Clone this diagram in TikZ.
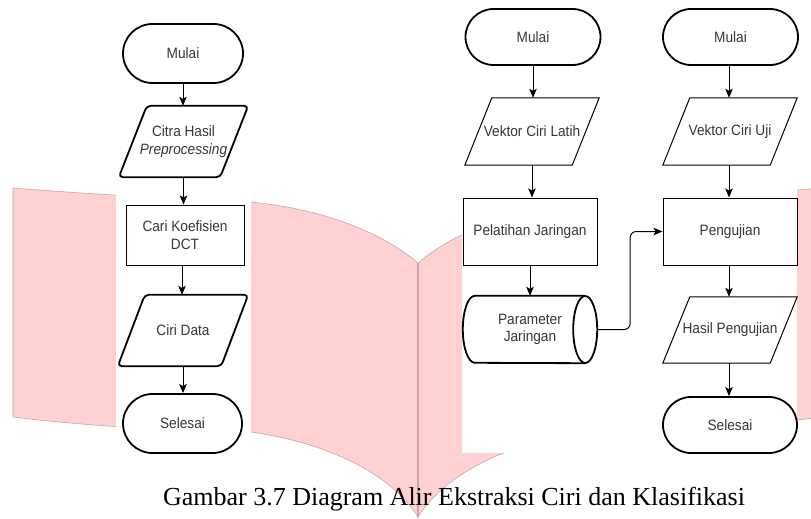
\documentclass[tikz,border=0pt]{standalone}
\usepackage{fontspec}
\setmainfont{Liberation Serif}
\newfontfamily\flowfont[FakeStretch=0.91]{Liberation Sans}
\usetikzlibrary{arrows.meta,calc,shapes.misc}
\definecolor{bookpink}{RGB}{255,209,211}
\definecolor{bookedge}{RGB}{196,168,170}
\definecolor{spinecol}{RGB}{200,168,170}
\definecolor{txtgray}{RGB}{55,55,55}
\begin{document}
\begin{tikzpicture}[x=1pt,y=-1pt,
  lbl/.style={font=\flowfont\fontsize{15}{17.5}\selectfont, text=txtgray, align=center, inner sep=0pt},
  term/.style={lbl, rounded rectangle, draw=black, line width=1.8pt},
  procbox/.style={lbl, rectangle, draw=black, line width=1pt},
  thickline/.style={draw=black, line width=1.8pt, line join=round},
  thinline/.style={draw=black, line width=1pt},
  arr/.style={draw=black, line width=1pt, -{Stealth[length=9pt,width=7.5pt,inset=2pt]}}]
\useasboundingbox (0,0) rectangle (811,519);
\fill[white] (0,0) rectangle (811,519);
% book watermark
\begin{scope}
\clip (0,0) rectangle (811,519);
\fill[bookpink, draw=bookedge, line width=0.6pt] (13,188) .. controls (100,195) and (200,200) .. (251,202)
  .. controls (330,210) and (385,235) .. (418,263) -- (418,517)
  .. controls (395,480) and (340,445) .. (251,432)
  .. controls (200,431) and (100,428) .. (13,417) -- cycle;
\fill[bookpink, draw=bookedge, line width=0.6pt] (418,263) .. controls (451,235) and (506,210) .. (585,202)
  .. controls (636,200) and (736,195) .. (823,188) -- (823,417)
  .. controls (736,428) and (636,431) .. (585,432)
  .. controls (496,445) and (441,480) .. (418,517) -- cycle;
\draw[spinecol, line width=1.3pt] (418,263) -- (418,517);
\end{scope}
% white image areas
\fill[white] (116,0) rectangle (251,470);
\fill[white] (462,0) rectangle (797,453);
% left column
\node[term, minimum width=120pt, minimum height=59pt] (m1) at (183,53.5) {Mulai};
\node[lbl, minimum width=101pt, minimum height=71pt] (c1) at (183.5,141.5) {Citra Hasil\\\textit{Preprocessing}};
\draw[thickline, rounded corners=4pt] ($(c1.north)+(14,0)$) -- ($(c1.north east)+(14,0)$) -- ($(c1.south east)+(-14,0)$) -- ($(c1.south west)+(-14,0)$) -- ($(c1.north west)+(14,0)$) -- cycle;
\node[procbox, minimum width=118pt, minimum height=60pt] (k1) at (185,235) {Cari Koefisien\\DCT};
\node[lbl, minimum width=103pt, minimum height=71pt] (d1) at (183,330.5) {Ciri Data};
\draw[thickline, rounded corners=4pt] ($(d1.north)+(13.5,0)$) -- ($(d1.north east)+(13.5,0)$) -- ($(d1.south east)+(-13.5,0)$) -- ($(d1.south west)+(-13.5,0)$) -- ($(d1.north west)+(13.5,0)$) -- cycle;
\node[term, minimum width=119pt, minimum height=59pt] (s1) at (182.5,423.5) {Selesai};
\draw[arr] (m1.south) -- (m1.south |- c1.north);
\draw[arr] (c1.south) -- (c1.south |- k1.north);
\draw[arr] ([xshift=-3pt]k1.south) -- ([xshift=-3pt]k1.south |- d1.north);
\draw[arr] (d1.south) -- (d1.south |- s1.north);
% middle column
\node[term, minimum width=135pt, minimum height=56pt] (m2) at (533,37) {Mulai};
\node[lbl, minimum width=107pt, minimum height=67pt] (v2) at (532,131.5) {Vektor Ciri Latih};
\draw[thinline] ($(v2.north west)+(13.5,0)$) -- ($(v2.north east)+(13.5,0)$) -- ($(v2.south east)+(-13.5,0)$) -- ($(v2.south west)+(-13.5,0)$) -- cycle;
\node[procbox, minimum width=134pt, minimum height=67pt] (p2) at (530,231.5) {Pelatihan Jaringan};
\node[lbl, minimum width=134pt, minimum height=67pt] (cyl) at (530,329.5) {Parameter\\Jaringan};
\draw[thickline] ($(cyl.north east)+(-12,0)$) -- ($(cyl.north west)+(12,0)$)
  arc[start angle=90, end angle=270, x radius=12pt, y radius=33.5pt] -- ($(cyl.south east)+(-12,0)$);
\draw[thickline] ($(cyl.east)+(-12,0)$) ellipse [x radius=12pt, y radius=33.5pt];
\draw[arr] (m2.south) -- (m2.south |- v2.north);
\draw[arr] (v2.south) -- (v2.south |- p2.north);
\draw[arr] (p2.south) -- (cyl.north);
% right column
\node[term, minimum width=135pt, minimum height=56pt] (m3) at (730.5,37) {Mulai};
\node[lbl, minimum width=107pt, minimum height=67pt] (v3) at (730,131.5) {Vektor Ciri Uji};
\draw[thinline] ($(v3.north west)+(13.5,0)$) -- ($(v3.north east)+(13.5,0)$) -- ($(v3.south east)+(-13.5,0)$) -- ($(v3.south west)+(-13.5,0)$) -- cycle;
\node[procbox, minimum width=134pt, minimum height=67pt] (pe) at (730,231.5) {Pengujian};
\node[lbl, minimum width=107pt, minimum height=66pt] (h3) at (730,330) {Hasil Pengujian};
\draw[thinline] ($(h3.north west)+(13.5,0)$) -- ($(h3.north east)+(13.5,0)$) -- ($(h3.south east)+(-13.5,0)$) -- ($(h3.south west)+(-13.5,0)$) -- cycle;
\node[term, minimum width=134pt, minimum height=56pt] (s3) at (730,425) {Selesai};
\draw[arr] ([xshift=-1.5pt]m3.south) -- ([xshift=-1.5pt]m3.south |- v3.north);
\draw[arr] ([xshift=-1pt]v3.south) -- ([xshift=-1pt]v3.south |- pe.north);
\draw[arr] ([xshift=-1pt]pe.south) -- ([xshift=-1pt]pe.south |- h3.north);
\draw[arr] ([xshift=-1pt]h3.south) -- ([xshift=-1pt]h3.south |- s3.north);
\draw[arr, rounded corners=6pt] (cyl.east) -- ++(33,0) |- (pe.west);
% caption
\node[font=\fontsize{26}{30}\selectfont, anchor=base, inner sep=0pt] (cap) at (454,505) {Gambar 3.7 Diagram Alir Ekstraksi Ciri dan Klasifikasi};
\end{tikzpicture}
\end{document}
